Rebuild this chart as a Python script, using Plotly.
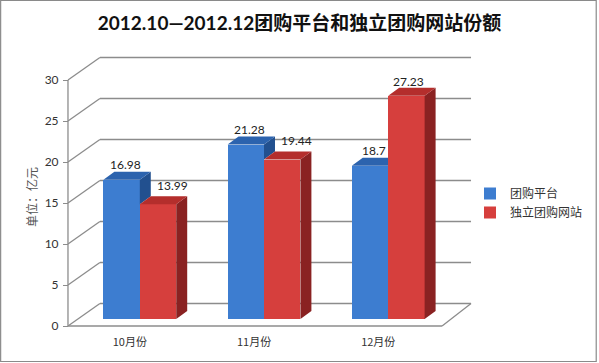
import plotly.graph_objects as go

# ---------------- data ----------------
categories = ["10月份", "11月份", "12月份"]
series_names = ["团购平台", "独立团购网站"]
platform_vals = [16.98, 21.28, 18.7]
independent_vals = [13.99, 19.44, 27.23]
y_ticks = [0, 5, 10, 15, 20, 25, 30]
title_text = "2012.10—2012.12团购平台和独立团购网站份额"
y_title = "单位：亿元"

# ---------------- geometry / style ----------------
W, H = 599, 363
L, R, T, B = 60, 480, 48, 330          # plot area in pixels
CAT0_PX, CAT_STEP = 140.0, 124.5       # pixel centre of first category, spacing
BASE_PX, PPU = 319.0, 8.2              # pixel of value 0 for bars, pixels per unit


def xd(px):
    return (px - CAT0_PX) / CAT_STEP


def xoff(dpx):
    return dpx / CAT_STEP


def yd_off(dpx):                        # pixel offset (upwards positive) -> data units
    return dpx / PPU


FRONT_OFF = yd_off(-7)                  # front (axis) plane offset
BACK_OFF = yd_off(15.5)                 # back wall offset
AXIS_PX, BACKL_PX, FLOOR_R_PX, BACKR_PX = 68, 100, 443, 472
BAR_W = 36.5 / CAT_STEP
DX = 11 / CAT_STEP
DY = yd_off(8)

xr = [xd(L), xd(R)]
yr = [(BASE_PX - B) / PPU, (BASE_PX - T) / PPU]

BLUE = dict(front="#3D7DD0", top="#2C63AE", side="#22508F")
RED = dict(front="#D63F3D", top="#B42E2C", side="#8A2222")
GRID = "#8C8C8C"

fig = go.Figure()


def faces(vals, offset, col, xa, ya, other=None):
    tx, ty, sx, sy = [], [], [], []
    for i, v in enumerate(vals):
        x0 = i + offset
        x1 = x0 + BAR_W
        tx += [x0, x1, x1 + DX, x0 + DX, x0, None]
        ty += [v, v, v + DY, v + DY, v, None]
        lo = 0.0
        if other is not None:
            lo = other[i]
            if lo >= v:
                continue
        sx += [x1, x1, x1 + DX, x1 + DX, x1, None]
        sy += [lo, v, v + DY, lo + DY, lo, None]
    fig.add_trace(go.Scatter(x=sx, y=sy, fill="toself", fillcolor=col["side"], mode="lines",
                             line=dict(width=0), showlegend=False, hoverinfo="skip",
                             xaxis=xa, yaxis=ya))
    fig.add_trace(go.Scatter(x=tx, y=ty, fill="toself", fillcolor=col["top"], mode="lines",
                             line=dict(width=0), showlegend=False, hoverinfo="skip",
                             xaxis=xa, yaxis=ya))


xs = list(range(len(categories)))

# blue series (bottom subplot layer)
fig.add_trace(go.Bar(x=xs, y=platform_vals, name=series_names[0], width=BAR_W, offset=-BAR_W,
                     marker=dict(color=BLUE["front"], line=dict(width=0)), xaxis="x", yaxis="y"))
faces(platform_vals, -BAR_W, BLUE, "x", "y", other=independent_vals)

# red series (overlay subplot layer, drawn on top)
fig.add_trace(go.Bar(x=xs, y=independent_vals, name=series_names[1], width=BAR_W, offset=0,
                     marker=dict(color=RED["front"], line=dict(width=0)), xaxis="x2", yaxis="y2"))
faces(independent_vals, 0, RED, "x2", "y2")

# wall / floor lines
shapes = []
for v in y_ticks:
    yb = v + BACK_OFF
    shapes.append(dict(type="line", xref="x", yref="y", x0=xd(BACKL_PX), x1=xd(BACKR_PX), y0=yb, y1=yb,
                       line=dict(color=GRID, width=1.3), layer="below"))
    shapes.append(dict(type="line", xref="x", yref="y", x0=xd(AXIS_PX), x1=xd(BACKL_PX),
                       y0=v + FRONT_OFF, y1=yb, line=dict(color=GRID, width=1.3), layer="below"))
shapes.append(dict(type="line", xref="x", yref="y", x0=xd(AXIS_PX), x1=xd(FLOOR_R_PX),
                   y0=FRONT_OFF, y1=FRONT_OFF, line=dict(color=GRID, width=1.3), layer="below"))
shapes.append(dict(type="line", xref="x", yref="y", x0=xd(FLOOR_R_PX), x1=xd(BACKR_PX),
                   y0=FRONT_OFF, y1=BACK_OFF, line=dict(color=GRID, width=1.3), layer="below"))
shapes.append(dict(type="line", xref="x", yref="y", x0=xd(AXIS_PX), x1=xd(AXIS_PX),
                   y0=FRONT_OFF, y1=max(y_ticks) + FRONT_OFF, line=dict(color=GRID, width=1.3),
                   layer="below"))
# outer frame
pw, ph = R - L, B - T
shapes.append(dict(type="rect", xref="paper", yref="paper",
                   x0=(0.5 - L) / pw, x1=(W - 1.5 - L) / pw,
                   y0=-(H - B - 1.5) / ph, y1=1 + (T - 0.5) / ph,
                   line=dict(color="#8A8A8A", width=1.2), layer="below"))

# value labels
lab_font = dict(family="Lato, 'Noto Sans CJK SC'", size=12, color="#222222")
ann = []
for i, v in enumerate(platform_vals):
    ann.append(dict(x=i - BAR_W / 2 + xoff(4), y=v + yd_off(15.5), xref="x", yref="y",
                    text=f"{v:g}", showarrow=False, xanchor="center", yanchor="middle",
                    font=lab_font))
for i, v in enumerate(independent_vals):
    if platform_vals[i] > v:
        # pushed right of the taller neighbour's side face
        ann.append(dict(x=i + DX + xoff(4), y=v + yd_off(19), xref="x", yref="y",
                        text=f"{v:g}", showarrow=False, xanchor="left", yanchor="middle",
                        font=lab_font))
    else:
        ann.append(dict(x=i + BAR_W / 2 + xoff(2), y=v + yd_off(14), xref="x", yref="y",
                        text=f"{v:g}", showarrow=False, xanchor="center", yanchor="middle",
                        font=lab_font))
ann.append(dict(x=(31 - L) / pw, y=(B - 197) / ph, xref="paper", yref="paper", text=y_title,
                textangle=-90, showarrow=False, xanchor="center", yanchor="middle",
                font=dict(family="'Noto Sans CJK SC'", size=12, color="#555555")))

axfont = dict(family="Lato, 'Noto Sans CJK SC'", size=12, color="#333333")
fig.update_layout(
    width=W, height=H,
    margin=dict(l=L, r=W - R, t=T, b=H - B, pad=0),
    paper_bgcolor="white", plot_bgcolor="rgba(0,0,0,0)",
    title=dict(text=f"<b>{title_text}</b>", x=0.5, xanchor="center", xref="container",
               y=1 - 23 / H, yanchor="middle", yref="container",
               font=dict(family="Lato, 'Noto Sans CJK SC'", size=19, color="#111111")),
    xaxis=dict(range=xr, showgrid=False, zeroline=False, showline=False, ticks="",
               tickvals=[i + xd(CAT0_PX - 10) for i in xs], ticktext=categories,
               tickfont=dict(family="'Noto Sans CJK SC'", size=11, color="#333333"),
               ticklabelstandoff=4, fixedrange=True),
    yaxis=dict(range=yr, showgrid=False, zeroline=False, showline=False,
               anchor="free", position=(AXIS_PX - L) / pw,
               tickvals=[v + FRONT_OFF for v in y_ticks], ticktext=[str(v) for v in y_ticks],
               ticks="outside", ticklen=5, tickcolor=GRID, tickwidth=1.3,
               tickfont=axfont, ticklabelstandoff=2, fixedrange=True),
    xaxis2=dict(range=xr, overlaying="x", visible=False, fixedrange=True),
    yaxis2=dict(range=yr, overlaying="y", visible=False, fixedrange=True),
    shapes=shapes, annotations=ann,
    showlegend=True,
    legend=dict(x=(470 - L) / pw, y=(B - 179) / ph, xanchor="left", yanchor="top",
                xref="paper", yref="paper", itemwidth=30, tracegroupgap=0,
                bgcolor="rgba(0,0,0,0)",
                font=dict(family="'Noto Sans CJK SC'", size=12, color="#333333")),
    bargap=0,
)

fig.write_html("out.html")
